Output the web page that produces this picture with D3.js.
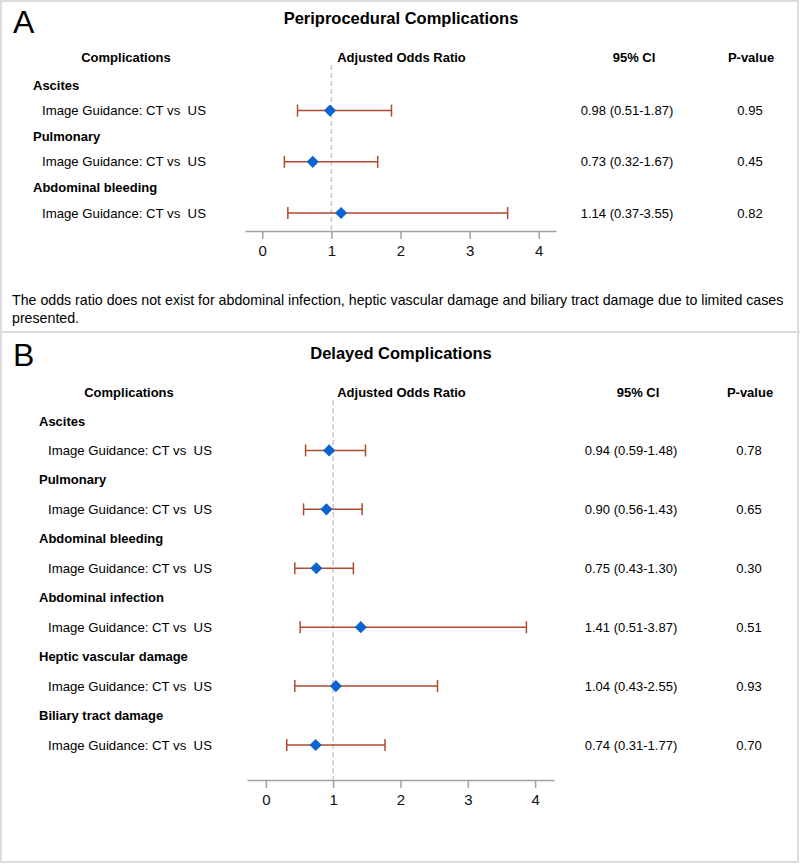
<!DOCTYPE html>
<html>
<head>
<meta charset="utf-8">
<script src="https://cdn.jsdelivr.net/npm/d3@7.9.0/dist/d3.min.js"></script>
<style>
  body { margin: 0; background: #fff; }
  svg { display: block; font-family: "Liberation Sans", Arial, sans-serif; }
  text { white-space: pre; }
</style>
</head>
<body>
<svg id="chart" width="800" height="864"></svg>
<script>
// Panel A: periprocedural complications
const periGroups = ['Ascites', 'Pulmonary', 'Abdominal bleeding'];
const periOR = [0.98, 0.73, 1.14];
const periLow = [0.51, 0.32, 0.37];
const periHigh = [1.87, 1.67, 3.55];
const periP = ['0.95', '0.45', '0.82'];

// Panel B: delayed complications
const delayGroups = ['Ascites', 'Pulmonary', 'Abdominal bleeding', 'Abdominal infection',
  'Heptic vascular damage', 'Biliary tract damage'];
const delayOR = [0.94, 0.90, 0.75, 1.41, 1.04, 0.74];
const delayLow = [0.59, 0.56, 0.43, 0.51, 0.43, 0.31];
const delayHigh = [1.48, 1.43, 1.30, 3.87, 2.55, 1.77];
const delayP = ['0.78', '0.65', '0.30', '0.51', '0.93', '0.70'];

const rowLabel = 'Image Guidance: CT vs  US';
const xTicks = [0, 1, 2, 3, 4];
const footnote = [
  'The odds ratio does not exist for abdominal infection, heptic vascular damage and biliary tract damage due to limited cases',
  'presented.'
];

const lineColor = '#b04a2c';
const markColor = '#0b64cf';
const axisColor = '#9ca3a7';

const svg = d3.select('#chart');

// outer frame and divider between the two panels
svg.append('rect')
  .attr('x', 1).attr('y', 1).attr('width', 797).attr('height', 861)
  .attr('fill', 'none').attr('stroke', '#dcdcdc').attr('stroke-width', 2);
svg.append('line')
  .attr('x1', 0).attr('x2', 800).attr('y1', 332).attr('y2', 332)
  .attr('stroke', '#dcdcdc').attr('stroke-width', 2);

function fmtCI(or, lo, hi) {
  return `${or.toFixed(2)} (${lo.toFixed(2)}-${hi.toFixed(2)})`;
}

function drawPanel(p) {
  const g = svg.append('g');

  // panel letter and title
  g.append('text').attr('x', p.letterX).attr('y', p.letterY)
    .attr('font-size', 32).text(p.letter);
  g.append('text').attr('x', 401).attr('y', p.titleY)
    .attr('text-anchor', 'middle').attr('dominant-baseline', 'central')
    .attr('font-size', 16.5).attr('font-weight', 'bold').text(p.title);

  const x = d3.scaleLinear().domain(p.domain).range([p.x0, p.x1]);

  // rows alternate: group heading, then the comparison row
  const rowIdx = d3.range(p.groups.length * 2);
  const y = d3.scalePoint().domain(rowIdx).range([p.rowTop, p.rowBottom]);

  // column headings
  const head = g.append('g').attr('font-size', 13).attr('font-weight', 'bold')
    .attr('text-anchor', 'middle').attr('dominant-baseline', 'central');
  head.append('text').attr('x', p.compX).attr('y', p.headY).text('Complications');
  head.append('text').attr('x', (p.x0 + p.x1) / 2 + 1).attr('y', p.headY).text('Adjusted Odds Ratio');
  head.append('text').attr('x', p.ciHeadX).attr('y', p.headY).text('95% CI');
  head.append('text').attr('x', p.pX + 1).attr('y', p.headY).text('P-value');

  // reference line at OR = 1
  g.append('line')
    .attr('x1', x(1)).attr('x2', x(1))
    .attr('y1', p.headY + 8).attr('y2', p.axisY)
    .attr('stroke', '#c9c9c9').attr('stroke-width', 1.5)
    .attr('stroke-dasharray', '5,3');

  p.groups.forEach((name, i) => {
    const yg = y(i * 2);
    const yr = y(i * 2 + 1);
    g.append('text').attr('x', p.groupX).attr('y', yg)
      .attr('dominant-baseline', 'central')
      .attr('font-size', 13).attr('font-weight', 'bold').text(name);
    g.append('text').attr('x', p.groupX + 9).attr('y', yr)
      .attr('dominant-baseline', 'central').attr('font-size', 13.2).text(rowLabel);

    // confidence interval with caps
    g.append('line')
      .attr('x1', x(p.low[i])).attr('x2', x(p.high[i]))
      .attr('y1', yr).attr('y2', yr)
      .attr('stroke', lineColor).attr('stroke-width', 1.5);
    [p.low[i], p.high[i]].forEach(v => {
      g.append('line')
        .attr('x1', x(v)).attr('x2', x(v))
        .attr('y1', yr - 6).attr('y2', yr + 6)
        .attr('stroke', lineColor).attr('stroke-width', 1.5);
    });

    // point estimate
    g.append('path')
      .attr('d', d3.symbol(d3.symbolSquare, 74)())
      .attr('transform', `translate(${x(p.or[i])},${yr}) rotate(45)`)
      .attr('fill', markColor);

    g.append('text').attr('x', p.ciX).attr('y', yr)
      .attr('text-anchor', 'middle').attr('dominant-baseline', 'central')
      .attr('font-size', 13).text(fmtCI(p.or[i], p.low[i], p.high[i]));
    g.append('text').attr('x', p.pX).attr('y', yr)
      .attr('text-anchor', 'middle').attr('dominant-baseline', 'central')
      .attr('font-size', 13).text(p.pv[i]);
  });

  // bottom axis
  const axis = g.append('g').attr('transform', `translate(0,${p.axisY})`)
    .call(d3.axisBottom(x).tickValues(xTicks).tickFormat(d3.format('d'))
      .tickSize(8).tickPadding(6).tickSizeOuter(0));
  axis.select('.domain').attr('stroke', axisColor).attr('stroke-width', 1.5);
  axis.selectAll('.tick line').attr('stroke', axisColor).attr('stroke-width', 1.5);
  axis.selectAll('.tick text').attr('font-size', 15).attr('fill', '#111')
    .attr('font-family', '"Liberation Sans", Arial, sans-serif');
}

drawPanel({
  letter: 'A', letterX: 13, letterY: 33, title: 'Periprocedural Complications', titleY: 18,
  groups: periGroups, or: periOR, low: periLow, high: periHigh, pv: periP,
  domain: [-0.25, 4.25], x0: 245, x1: 556,
  rowTop: 85, rowBottom: 213, headY: 57, axisY: 231,
  groupX: 33, compX: 126, ciX: 627, ciHeadX: 634, pX: 750
});

drawPanel({
  letter: 'B', letterX: 13, letterY: 366, title: 'Delayed Complications', titleY: 353,
  groups: delayGroups, or: delayOR, low: delayLow, high: delayHigh, pv: delayP,
  domain: [-0.28, 4.28], x0: 247, x1: 554,
  rowTop: 421, rowBottom: 745, headY: 392, axisY: 780,
  groupX: 39, compX: 129, ciX: 631, ciHeadX: 638, pX: 749
});

// footnote under panel A
svg.append('g').selectAll('text').data(footnote).join('text')
  .attr('x', 12).attr('y', (d, i) => 300 + i * 18)
  .attr('dominant-baseline', 'central').attr('font-size', 14.2)
  .text(d => d);
</script>
</body>
</html>
